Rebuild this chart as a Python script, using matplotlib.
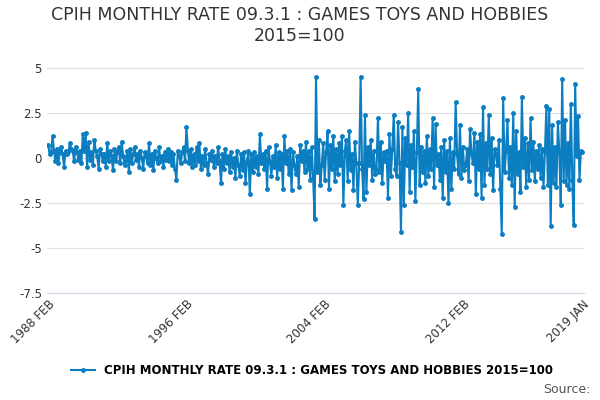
import matplotlib
matplotlib.use('Agg')
import matplotlib.pyplot as plt
import numpy as np

# monthly rate, Feb 1988 .. Jan 2019, one row per year (Feb..Jan)
rows = [
    [0.7, 0.2, 0.3, 1.2, 0.4, -0.2, 0.5, -0.3, 0.3, 0.6, 0.2, -0.5],
    [0.4, 0.2, 0.3, 0.8, 0.5, 0.4, -0.2, 0.6, 0.3, -0.1, 0.4, -0.3],
    [1.3, 0.4, 1.4, -0.5, 0.9, -0.1, 0.3, -0.4, 1.0, 0.4, 0.1, -0.6],
    [0.5, 0.2, -0.2, 0.2, -0.5, 0.8, -0.2, 0.4, 0.1, -0.7, 0.5, -0.2],
    [0.3, 0.6, -0.3, 0.9, 0.1, -0.4, -0.1, 0.4, -0.8, 0.5, -0.3, 0.2],
    [0.6, -0.1, 0.2, -0.5, 0.4, 0.0, -0.6, 0.3, 0.1, -0.3, 0.8, -0.4],
    [0.2, -0.7, 0.4, 0.0, -0.3, 0.6, -0.2, 0.1, -0.5, 0.3, -0.1, 0.5],
    [-0.2, 0.3, -0.4, 0.2, -0.6, -1.2, 0.4, 0.1, -0.3, 0.3, 0.6, -0.2],
    [1.7, 0.4, -0.3, 0.5, -0.5, 0.2, -0.4, 0.6, -0.2, 0.8, -0.6, 0.1],
    [-0.4, 0.5, -0.3, -0.9, 0.2, -0.1, 0.4, -0.5, 0.1, -0.3, 0.6, -0.2],
    [-1.4, 0.2, -0.6, 0.5, -0.3, 0.1, -0.8, 0.3, -0.5, 0.0, -1.1, 0.4],
    [-0.4, -1.0, 0.2, -0.7, 0.3, -1.4, -0.2, 0.4, -2.0, 0.2, -0.8, 0.3],
    [-0.5, 0.1, -0.9, 1.3, -0.3, 0.2, -0.6, 0.4, -1.7, 0.6, -0.2, -1.0],
    [0.1, -0.5, 0.7, -1.1, 0.3, -0.6, 0.2, -1.7, 1.2, -0.3, 0.4, -0.9],
    [0.5, -1.8, 0.3, -0.4, -0.9, 0.1, -1.6, 0.7, -0.2, 0.4, -0.8, 0.9],
    [-0.6, 0.4, -1.2, 0.6, -1.1, -3.4, 4.5, -0.8, 1.0, -1.5, -0.4, 0.8],
    [-1.2, 0.3, 1.5, -1.7, 0.7, -0.6, 1.2, -1.3, 0.5, -0.9, 0.8, -0.4],
    [1.2, -2.6, 0.4, 1.0, -1.3, 1.5, -0.7, 0.2, -1.8, 0.9, -0.3, -2.6],
    [-0.3, 4.5, -0.6, -2.3, 2.4, -1.9, 0.6, -0.4, 1.0, -1.2, 0.4, -0.9],
    [-0.6, 2.2, -0.8, 0.9, -1.4, 0.3, -0.2, 0.4, -2.2, 1.3, -1.0, 0.5],
    [2.4, -0.6, -1.0, 2.0, -0.3, -4.1, 1.7, -2.6, 1.1, -0.4, 2.5, -1.9],
    [0.7, -0.5, 1.5, -2.4, 0.3, 3.8, -1.5, 0.6, -0.8, 0.4, -1.4, 1.2],
    [-1.0, 0.5, -0.6, 2.2, -1.6, 1.9, -0.4, 0.2, -1.2, 0.6, -2.2, 1.0],
    [-0.8, 0.4, -2.5, 1.1, -1.7, 0.3, -0.6, 3.1, 0.2, -0.9, 1.8, -1.1],
    [0.6, -0.7, -0.4, 0.5, -1.3, 1.6, 0.2, -0.3, 1.4, -2.0, 0.9, -0.6],
    [1.3, -2.2, 2.8, -1.5, 0.8, -0.6, 2.4, -0.9, 1.1, -1.8, 0.5, 0.2],
    [-0.4, 1.0, -1.7, -4.2, 3.3, -0.8, 0.4, 2.1, -1.1, 0.6, -1.5, 2.5],
    [-2.7, 1.5, -0.9, 0.3, -1.9, 3.4, -0.5, 1.1, -1.6, 0.8, -1.2, 2.2],
    [-0.7, 0.9, -1.3, 0.4, -0.6, 0.7, -1.1, 0.5, -1.6, 0.3, 2.9, -1.5],
    [2.7, -3.8, 1.8, -1.4, 0.6, -1.6, 2.0, 0.3, -2.6, 4.4, -1.3, 2.1],
    [-1.5, 0.8, -1.7, 3.0, -1.2, -3.7, 4.1, 0.1, 2.3, -1.2, 0.4, 0.3],
]
values = np.concatenate([np.array(r) for r in rows])
months = np.arange(len(values))
tick_pos = [0, 96, 192, 288, len(values) - 1]
tick_labels = ['1988 FEB', '1996 FEB', '2004 FEB', '2012 FEB', '2019 JAN']
yticks = [5, 2.5, 0, -2.5, -5, -7.5]

color = '#0b7dc1'
fig = plt.figure(figsize=(6, 4), dpi=100)
ax = fig.add_axes([0.078, 0.2675, 0.895, 0.59])
ax.plot(months, values, color=color, linewidth=1.5, marker='o', markersize=2.5,
        label='CPIH MONTHLY RATE 09.3.1 : GAMES TOYS AND HOBBIES 2015=100')
ax.set_ylim(-7.5, 5.6)
ax.set_xlim(-1, len(values))
ax.set_yticks(yticks)
ax.set_yticklabels(['5', '2.5', '0', '-2.5', '-5', '-7.5'])
ax.set_xticks(tick_pos)
ax.set_xticklabels(tick_labels, rotation=45, ha='right', rotation_mode='anchor')
ax.tick_params(colors='#333333', labelsize=8.5, length=0)
ax.grid(axis='y', color='#e0e0e0', linewidth=0.8)
for s in ['top', 'right', 'left']:
    ax.spines[s].set_visible(False)
ax.spines['bottom'].set_color('#ccd6eb')
ax.set_axisbelow(True)

fig.suptitle('CPIH MONTHLY RATE 09.3.1 : GAMES TOYS AND HOBBIES\n2015=100',
             fontsize=12.5, color='#333333', y=0.985)
fig.legend(loc='lower center', bbox_to_anchor=(0.52, 0.03), frameon=False,
           handlelength=2, prop={'weight': 'bold', 'size': 8.5})
fig.text(0.985, 0.01, 'Source:', ha='right', va='bottom', fontsize=9, color='#555555')
fig.savefig('out.png', dpi=100)
